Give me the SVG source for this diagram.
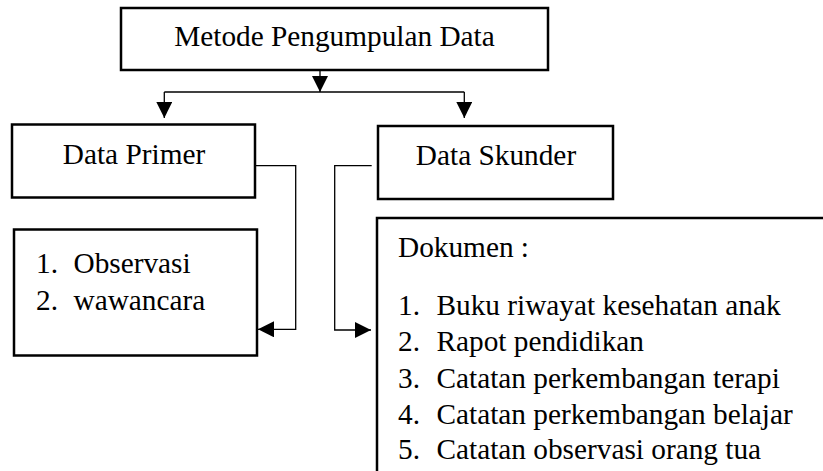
<svg xmlns="http://www.w3.org/2000/svg" width="823" height="471" viewBox="0 0 823 471">
<style>
.box{fill:#fff;stroke:#000;stroke-width:2.5}
.t{font-family:'Liberation Serif','DejaVu Serif',serif;font-size:29.3px;fill:#000}
.c{fill:none;stroke:#000;stroke-width:1.3}
</style>
<defs>
<marker id="ah" markerUnits="userSpaceOnUse" markerWidth="16" markerHeight="16" refX="16" refY="8" orient="auto">
<path d="M0,0 L16,8 L0,16 Z" fill="#000"/>
</marker>
</defs>
<rect width="823" height="471" fill="#fff"/>
<g id="node-metode">
<rect class="box" x="121" y="8" width="427" height="62"/>
<text class="t" x="334.5" y="46" text-anchor="middle">Metode Pengumpulan Data</text>
</g>
<g id="node-primer">
<rect class="box" x="12" y="124.5" width="243" height="73"/>
<text class="t" x="134" y="163.5" text-anchor="middle">Data Primer</text>
</g>
<g id="node-skunder">
<rect class="box" x="378" y="126" width="235" height="73"/>
<text class="t" x="496" y="165" text-anchor="middle">Data Skunder</text>
</g>
<g id="node-primer-list">
<rect class="box" x="14" y="229.5" width="243" height="126"/>
<text class="t" x="36" y="272.5">1.</text>
<text class="t" x="73.5" y="272.5">Observasi</text>
<text class="t" x="36" y="310">2.</text>
<text class="t" x="73.5" y="310">wawancara</text>
</g>
<g id="node-dokumen">
<rect class="box" x="377" y="218" width="470" height="280"/>
<text class="t" x="398" y="256.5">Dokumen :</text>
<text class="t" x="398" y="314.5">1.</text>
<text class="t" x="436.5" y="314.5">Buku riwayat kesehatan anak</text>
<text class="t" x="398" y="351">2.</text>
<text class="t" x="436.5" y="351">Rapot pendidikan</text>
<text class="t" x="398" y="387.5">3.</text>
<text class="t" x="436.5" y="387.5">Catatan perkembangan terapi</text>
<text class="t" x="398" y="423.5">4.</text>
<text class="t" x="436.5" y="423.5">Catatan perkembangan belajar</text>
<text class="t" x="398" y="458.5">5.</text>
<text class="t" x="436.5" y="458.5">Catatan observasi orang tua</text>
</g>
<g id="connectors">
<path class="c" d="M320,70 V92" marker-end="url(#ah)"/>
<path class="c" d="M164.3,92 H464.3"/>
<path class="c" d="M164.3,92 V118" marker-end="url(#ah)"/>
<path class="c" d="M464.3,92 V118" marker-end="url(#ah)"/>
<path class="c" d="M255,165.7 H295.7 V329.3 H258" marker-end="url(#ah)"/>
<path class="c" d="M371.7,165.7 H334.7 V330 H371" marker-end="url(#ah)"/>
</g>
</svg>
